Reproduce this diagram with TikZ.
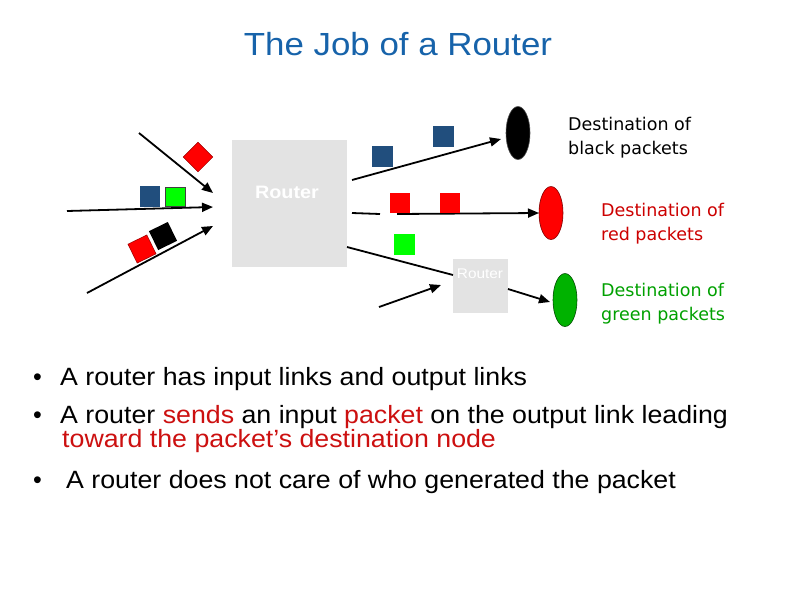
\documentclass[tikz,border=0pt]{standalone}
\usepackage{fontspec}
\setmainfont{Liberation Sans}
\newfontfamily\destfont{DejaVu Sans}
\usetikzlibrary{arrows.meta,shapes.geometric}
\definecolor{titleblue}{RGB}{23,99,170}
\definecolor{pblue}{RGB}{33,78,125}
\definecolor{pred}{RGB}{255,0,0}
\definecolor{pgreen}{RGB}{0,255,0}
\definecolor{egreen}{RGB}{0,178,0}
\definecolor{labred}{RGB}{204,0,0}
\definecolor{labgreen}{RGB}{0,160,0}
\definecolor{txtred}{RGB}{204,16,16}
\definecolor{rgray}{RGB}{227,227,227}
\tikzset{
  link/.style={line width=1.8pt,-{Triangle[length=11pt,width=9pt]}},
  plainlink/.style={line width=1.8pt},
  packet/.style={minimum width=21pt,minimum height=21pt,inner sep=0pt,outer sep=0pt},
  routerbox/.style={fill=rgray,draw=none,inner sep=0pt,outer sep=0pt},
  dest/.style={ellipse,minimum width=24pt,minimum height=53pt,inner sep=0pt,outer sep=0pt,draw=black!70,line width=0.6pt},
  destlab/.style={anchor=base west,inner sep=0pt,font=\destfont\fontsize{17.5}{24}\selectfont,align=left},
  bul/.style={anchor=base west,inner sep=0pt,font=\fontsize{25}{30}\selectfont},
}
\newcommand{\sx}[1]{\scalebox{1.07}[1]{#1}}
\begin{document}
\begin{tikzpicture}[x=1pt,y=-1pt]
\useasboundingbox (0,0) rectangle (800,600);
% title
\node[anchor=base,inner sep=0pt,text=titleblue,font=\fontsize{32}{38}\selectfont] (title) at (398,55) {\scalebox{1.09}[1]{The Job of a Router}};
% routers
\node[routerbox,minimum width=115pt,minimum height=127pt] (big) at (289.5,203.5) {};
\node[anchor=base,inner sep=0pt,text=white,font=\bfseries\fontsize{18}{20}\selectfont] (biglab) at (287,198) {\scalebox{1.1}[1]{Router}};
\node[routerbox,minimum width=55pt,minimum height=54pt] (small) at (480.5,286) {};
\node[anchor=base,inner sep=0pt,text=white,font=\fontsize{14}{16}\selectfont] (smalllab) at (480,278) {\scalebox{1.1}[1]{Router}};
% destinations
\node[dest,fill=black] (dblack) at (518,133) {};
\node[dest,fill=pred,draw=red!50!black] (dred) at (551,213) {};
\node[dest,fill=egreen,draw=green!30!black] (dgreen) at (565,300) {};
\node[destlab] (lblack) at (568,154) {Destination of\\black packets};
\node[destlab,text=labred] (lred) at (601,240) {Destination of\\red packets};
\node[destlab,text=labgreen] (lgreen) at (601,320) {Destination of\\green packets};
% input link coordinates
\coordinate (i1s) at (139,133); \coordinate (i1e) at (213,193);
\coordinate (i2s) at (67,211);  \coordinate (i2e) at (213,207);
\coordinate (i3s) at (87,293);  \coordinate (i3e) at (213,226);
\draw[link] (i1s) -- (i1e);
\draw[link] (i2s) -- (i2e);
\draw[link] (i3s) -- (i3e);
% output links
\coordinate (o1s) at (352,180); \coordinate (o1e) at (501,139);
\coordinate (o2s) at (352,213); \coordinate (o2m) at (380,214); \coordinate (o2r) at (397,214);
\coordinate (o3s) at (big.east |- 0,247); \coordinate (o3e) at (small.west |- 0,275);
\coordinate (o4s) at (379,307); \coordinate (o4e) at (441,285);
\coordinate (o5s) at (small.east |- 0,289); \coordinate (o5e) at (550,302);
\draw[link] (o1s) -- (o1e);
\draw[plainlink] (o2s) -- (o2m);
\draw[link] (o2r) -- (dred.west);
\draw[plainlink] (o3s) -- (o3e);
\draw[link] (o4s) -- (o4e);
\draw[link] (o5s) -- (o5e);
% incoming packets
\node[packet,fill=pred,draw=red!60!black,line width=0.5pt,rotate=45] (pin1) at (198,157) {};
\node[packet,fill=pblue,minimum width=20pt] (pin2) at (150,196.5) {};
\node[packet,fill=pgreen,draw=black!75,line width=0.9pt,minimum width=20pt,minimum height=19.5pt] (pin3) at (175.5,197) {};
\node[packet,fill=black,rotate=26] (pin4) at (163,236) {};
\node[packet,fill=pred,draw=red!60!black,line width=0.5pt,rotate=26] (pin5) at (142,249) {};
% outgoing packets
\node[packet,fill=pblue] (pout1) at (382.5,156.5) {};
\node[packet,fill=pblue] (pout2) at (443.5,136.5) {};
\node[packet,fill=pred,minimum width=20pt,minimum height=20pt] (pout3) at (400,203) {};
\node[packet,fill=pred,minimum width=20pt,minimum height=20pt] (pout4) at (450,203) {};
\node[packet,fill=pgreen] (pout5) at (404.5,244.5) {};
% bullets
\node[bul] (b1) at (33,385) {•};
\node[bul] (t1) at (60,385) {\sx{A router has input links and output links}};
\node[bul] (b2) at (33,423) {•};
\node[bul] (t2) at (60,423) {\sx{A router \textcolor{txtred}{sends} an input \textcolor{txtred}{packet} on the output link leading}};
\node[bul,text=txtred] (t3) at (62,447) {\sx{toward the packet’s destination node}};
\node[bul] (b4) at (33,488) {•};
\node[bul] (t4) at (66,488) {\sx{A router does not care of who generated the packet}};
\end{tikzpicture}
\end{document}
